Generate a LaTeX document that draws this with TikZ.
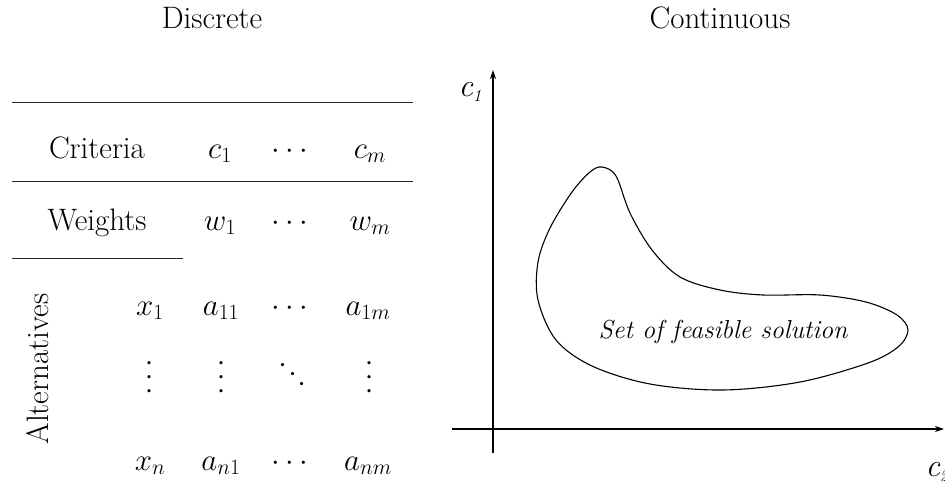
\RequirePackage{fix-cm}
\documentclass[tikz,border=0pt]{standalone}
\usepackage{fontspec}
\usetikzlibrary{arrows.meta}
\newcommand{\myvd}{\rotatebox{90}{$\cdots$}}
\newcommand{\mydd}{\rotatebox{-45}{$\cdots$}}
\begin{document}
\begin{tikzpicture}[x=1pt,y=-1pt,
  txt/.style={anchor=base,inner sep=0pt,font=\fontsize{31}{36}\selectfont},
  dts/.style={inner sep=0pt,font=\fontsize{31}{36}\selectfont},
  rule/.style={line width=0.9pt,draw=black!85},
  axis/.style={line width=1.6pt,-{Stealth[length=9pt,width=6pt]}},
  blob/.style={line width=1.1pt},
  ital/.style={inner sep=0pt,font=\itshape\fontsize{32}{34}\selectfont}]
\useasboundingbox (0,0) rectangle (945,488);
% titles
\node[txt] (disc) at (212,28) {Discrete};
\node[txt] (cont) at (720,28) {Continuous};
% table rules
\coordinate (r1a) at (12,102); \coordinate (r1b) at (413,102);
\coordinate (r2a) at (12,181); \coordinate (r2b) at (413,181);
\coordinate (r3a) at (12,258); \coordinate (r3b) at (183,258);
\draw[rule] (r1a) -- (r1b);
\draw[rule] (r2a) -- (r2b);
\draw[rule] (r3a) -- (r3b);
% rows
\node[txt] (crit) at (97,158) {Criteria};
\node[txt] (c1) at (220,158) {$c_1$};
\node[txt] (cd1) at (290,158) {$\cdots$};
\node[txt] (cm) at (370,158) {$c_m$};
\node[txt] (wei) at (97,230) {Weights};
\node[txt] (w1) at (220,230) {$w_1$};
\node[txt] (cd2) at (290,230) {$\cdots$};
\node[txt] (wm) at (370,230) {$w_m$};
\node[inner sep=0pt,font=\fontsize{31}{36}\selectfont,rotate=90] (alt) at (38,369) {Alternatives};
\node[txt] (x1) at (150,315) {$x_1$};
\node[txt] (a11) at (221,315) {$a_{11}$};
\node[txt] (cd3) at (290,315) {$\cdots$};
\node[txt] (a1m) at (368,315) {$a_{1m}$};
\node[dts] (v1) at (150,377) {\myvd};
\node[dts] (v2) at (222,377) {\myvd};
\node[dts] (dd) at (292,375) {\mydd};
\node[dts] (v3) at (370,377) {\myvd};
\node[txt] (xn) at (150,470) {$x_n$};
\node[txt] (an1) at (221,470) {$a_{n1}$};
\node[txt] (cd4) at (290,470) {$\cdots$};
\node[txt] (anm) at (368,470) {$a_{nm}$};
% axes
\coordinate (yb) at (493,453); \coordinate (yt) at (493,70);
\coordinate (xl) at (452,429); \coordinate (xr) at (944,429);
\draw[axis] (yb) -- (yt);
\draw[axis] (xl) -- (xr);
\node[ital,anchor=base] (lc1) at (470,96) {c\raisebox{-5pt}{\fontsize{17}{18}\selectfont 1}};
\node[ital,anchor=base] (lc2) at (937,476) {c\raisebox{-5pt}{\fontsize{17}{18}\selectfont 2}};
% feasible set
\draw[blob] plot[smooth cycle,tension=0.55] coordinates {
 (602,167) (616,176) (630,213) (652,250) (680,277) (720,290) (763,295)
 (820,295) (866,302) (897,315) (908,330) (898,347) (868,363) (800,382)
 (723,390) (650,384) (592,366) (556,340) (538,300) (538,262) (550,228) (572,192) (590,172)};
\node[inner sep=0pt,font=\itshape\fontsize{26}{30}\selectfont] (set) at (723,332) {Set of feasible solution};
\end{tikzpicture}
\end{document}
